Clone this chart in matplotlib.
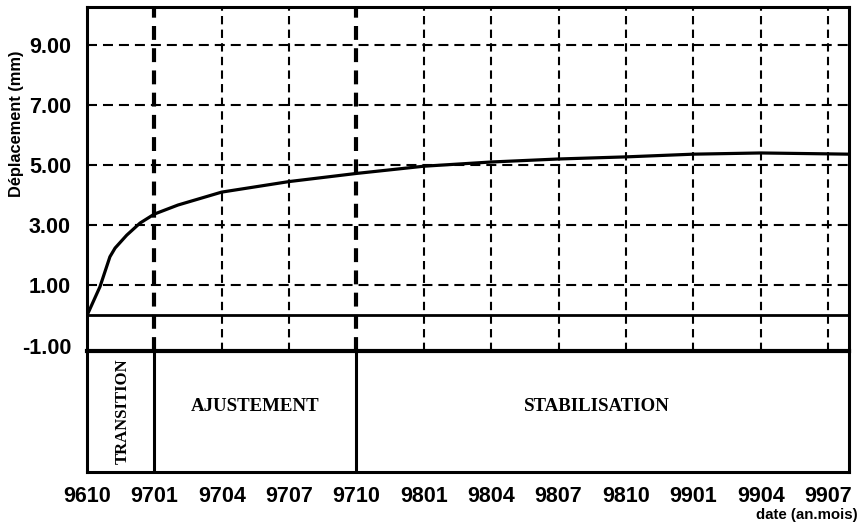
import matplotlib
matplotlib.use("Agg")
import matplotlib.pyplot as plt

plt.rcParams['lines.scale_dashes'] = False

# ---- data ----
date_labels = ['9610', '9701', '9704', '9707', '9710', '9801', '9804',
               '9807', '9810', '9901', '9904', '9907']
# curve: months since Oct 1996, displacement (mm)
curve_months = [0, 0.58, 1.02, 1.25, 1.77, 2.36, 3.0, 4.05, 6, 9, 12, 15,
                18, 21, 24, 27, 30, 33, 33.93]
curve_disp = [0, 0.96, 1.95, 2.24, 2.67, 3.07, 3.37, 3.67, 4.1, 4.45, 4.72,
              4.96, 5.1, 5.2, 5.27, 5.36, 5.40, 5.37, 5.36]
y_ticks = [-1, 1, 3, 5, 7, 9]
y_tick_labels = ['-1.00', '1.00', '3.00', '5.00', '7.00', '9.00']
phase_names = ['TRANSITION', 'AJUSTEMENT', 'STABILISATION']
phase_bounds = [0, 3, 12, 33.93]   # months

tick_months = [3 * i for i in range(len(date_labels))]
x_max = 33.93

W, H = 861, 526
fig = plt.figure(figsize=(W / 100, H / 100), dpi=100)

L, R = 87, 849
ax2 = fig.add_axes([L / W, 1 - 472 / H, (R - L) / W, (472 - 351) / H])
ax = fig.add_axes([L / W, 1 - 351 / H, (R - L) / W, (351 - 7) / H])
ax2.patch.set_alpha(0)

ax.set_xlim(0, x_max)
ax.set_ylim(-1.18, 10.25)

sans = ['Liberation Sans', 'DejaVu Sans']
serif = ['Liberation Serif', 'DejaVu Serif']

# horizontal grid
for yv in [1, 3, 5, 7, 9]:
    ax.axhline(yv, color='black', lw=1.5, dashes=(7.2, 4.3), zorder=1)
ax.axhline(0, color='black', lw=2.0, zorder=2)

# vertical grid
for m in tick_months[1:]:
    if m in (3, 12):
        ax.axvline(m, color='black', lw=3.0, dashes=(10, 6), zorder=1)
    else:
        ax.axvline(m, color='black', lw=1.5, dashes=(6, 3.8), zorder=1)

ax.plot(curve_months, curve_disp, color='black', lw=2.3, zorder=3,
        solid_joinstyle='round')

ax.set_yticks(y_ticks)
ax.set_yticklabels(y_tick_labels, fontsize=15.5, fontweight='bold',
                   family=sans)
ax.set_xticks([])
ax.tick_params(axis='y', length=0, pad=11.5)
for s in ['left', 'top', 'right']:
    ax.spines[s].set_linewidth(2.2)
ax.spines['bottom'].set_linewidth(3.0)

# phase box
ax2.set_xlim(0, x_max)
ax2.set_ylim(0, 1)
ax2.set_yticks([])
ax2.set_xticks(tick_months)
ax2.set_xticklabels(date_labels, fontsize=15.5, fontweight='bold',
                    family=sans)
ax2.tick_params(axis='x', length=0, pad=10)
ax2.spines['top'].set_visible(False)
for s in ['left', 'bottom', 'right']:
    ax2.spines[s].set_linewidth(2.2)
for b in phase_bounds[1:-1]:
    ax2.axvline(b, color='black', lw=2.2)

ax2.text(1.6, 0.5, phase_names[0], rotation=90, ha='center',
         va='center', fontsize=12, fontweight='bold', family=serif)
ax2.text(7.5, 0.54, phase_names[1], ha='center', va='center',
         fontsize=13.6, fontweight='bold', family=serif)
ax2.text(22.7, 0.54, phase_names[2], ha='center', va='center',
         fontsize=13.6, fontweight='bold', family=serif)

fig.text(17 / W, 1 - 123.5 / H, 'Déplacement (mm)', rotation=90,
         ha='center', va='center', fontsize=11.8, fontweight='bold',
         family=sans)
fig.text(858 / W, 1 - 515 / H, 'date (an.mois)', ha='right', va='center',
         fontsize=10.8, fontweight='bold', family=sans)

fig.savefig('out.png', dpi=100)
